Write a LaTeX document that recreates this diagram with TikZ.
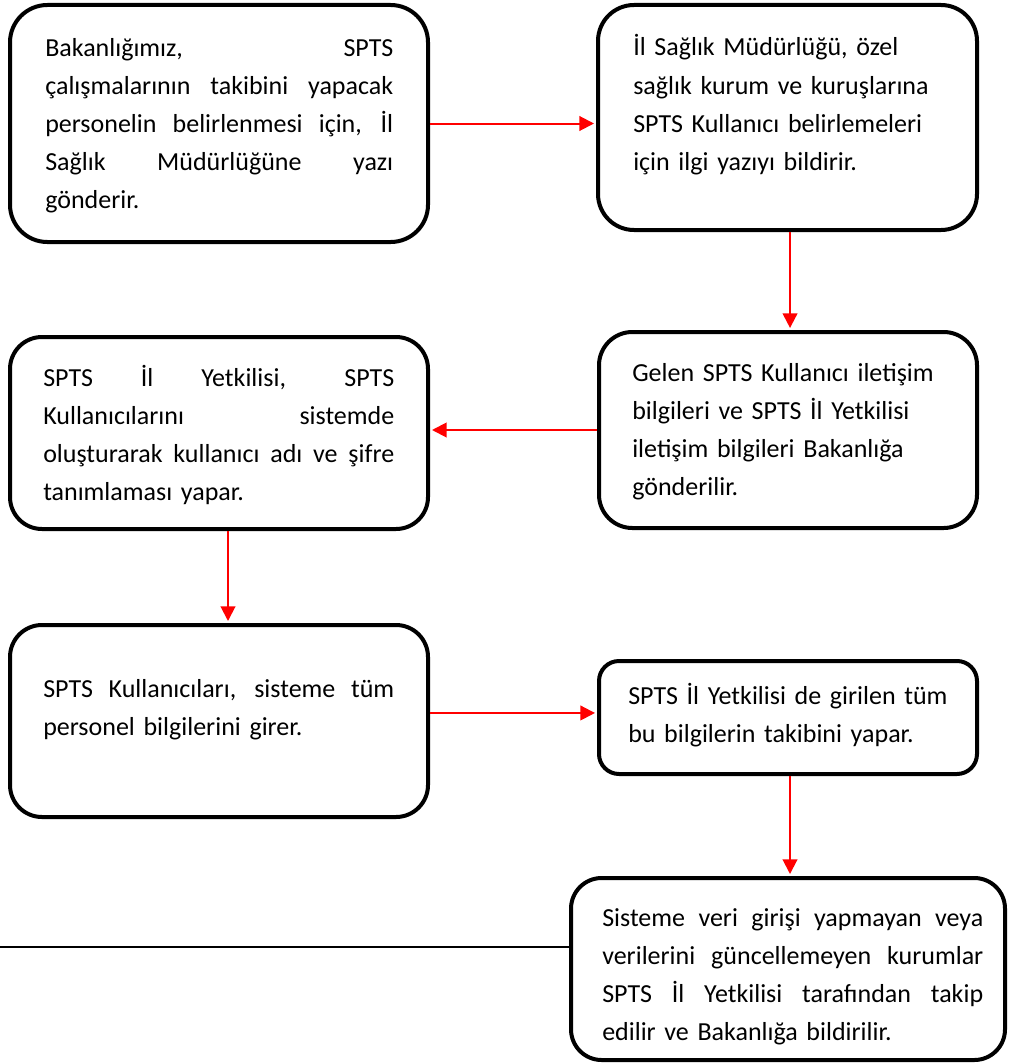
\documentclass[tikz,border=0pt]{standalone}
\usepackage{fontspec}
\setmainfont{Carlito}
\usetikzlibrary{arrows.meta}

% one full-width justified line inside a text node
\newcommand\justline[1]{\leavevmode\hbox to \hsize{\spaceskip=\fontdimen2\font plus 1fil\relax #1}\\}

\begin{document}
\begin{tikzpicture}[
  x=0.75pt, y=-0.75pt,
  stepbox/.style={draw=black, line width=3pt, rectangle, inner sep=0pt, fill=white},
  steptext/.style={anchor=base west, inner sep=0pt, align=left,
    font=\fontsize{19.5pt}{28.5pt}\selectfont},
  flow/.style={draw=red, line width=1.5pt, shorten >=1.5pt,
    -{Triangle[length=11pt, width=11pt]}},
]
\useasboundingbox (0,0) rectangle (1009,1063);

% boxes
\node[stepbox, rounded corners=28pt, minimum width=418*0.75pt, minimum height=237*0.75pt] (b1) at (219,123.5) {};
\node[stepbox, rounded corners=27pt, minimum width=379*0.75pt, minimum height=225*0.75pt] (b2) at (787.5,117.5) {};
\node[stepbox, rounded corners=25pt, minimum width=378*0.75pt, minimum height=196*0.75pt] (b3) at (788,430) {};
\node[stepbox, rounded corners=24pt, minimum width=418*0.75pt, minimum height=192*0.75pt] (b4) at (219,433) {};
\node[stepbox, rounded corners=24pt, minimum width=418*0.75pt, minimum height=192*0.75pt] (b5) at (219,721) {};
\node[stepbox, rounded corners=15pt, minimum width=378*0.75pt, minimum height=113*0.75pt] (b6) at (788,717.5) {};
\node[stepbox, rounded corners=23pt, minimum width=434*0.75pt, minimum height=182*0.75pt] (b7) at (788,969) {};

% texts
\node[steptext, text width=348*0.75pt] (t1) at (45,56.5) {%
  \justline{Bakanlığımız, SPTS}%
  \justline{çalışmalarının takibini yapacak}%
  \justline{personelin belirlenmesi için, İl}%
  \justline{Sağlık Müdürlüğüne yazı}%
  gönderir.};
\node[steptext, text width=320*0.75pt] (t2) at (633,56) {İl Sağlık Müdürlüğü, özel\\sağlık kurum ve kuruşlarına\\SPTS Kullanıcı belirlemeleri\\için ilgi yazıyı bildirir.};
\node[steptext, text width=320*0.75pt] (t3) at (632,381) {Gelen SPTS Kullanıcı iletişim\\bilgileri ve SPTS İl Yetkilisi\\iletişim bilgileri Bakanlığa\\gönderilir.};
\node[steptext, text width=351*0.75pt] (t4) at (43,386.5) {%
  \justline{SPTS İl Yetkilisi, SPTS}%
  \justline{Kullanıcılarını sistemde}%
  \justline{oluşturarak kullanıcı adı ve şifre}%
  tanımlaması yapar.};
\node[steptext, text width=351*0.75pt] (t5) at (43,697) {%
  \justline{SPTS Kullanıcıları, sisteme tüm}%
  personel bilgilerini girer.};
\node[steptext, text width=330*0.75pt] (t6) at (628,704) {SPTS İl Yetkilisi de girilen tüm\\bu bilgilerin takibini yapar.};
\node[steptext, text width=381*0.75pt] (t7) at (602,926.5) {%
  \justline{Sisteme veri girişi yapmayan veya}%
  \justline{verilerini güncellemeyen kurumlar}%
  \justline{SPTS İl Yetkilisi tarafından takip}%
  edilir ve Bakanlığa bildirilir.};

% connectors
\draw[flow] (b1.east) -- (b1.east -| b2.west);
\draw[flow] ([xshift=1.9pt]b2.south) -- ([xshift=1.9pt]b2.south |- b3.north);
\draw[flow] (b3.west) -- (b3.west -| b4.east);
\draw[flow] ([xshift=6.75pt]b4.south) -- ([xshift=6.75pt]b5.north);
\coordinate (m5) at ([yshift=3.4pt]b6.west);
\draw[flow] (m5 -| b5.east) -- (m5);
\draw[flow] ([xshift=1.5pt]b6.south) -- ([xshift=1.5pt]b6.south |- b7.north);

% plain rule running into the last box
\coordinate (lend) at (0,947);
\draw[black, line width=1.6pt] (lend) -- (lend -| b7.west);
\end{tikzpicture}
\end{document}
